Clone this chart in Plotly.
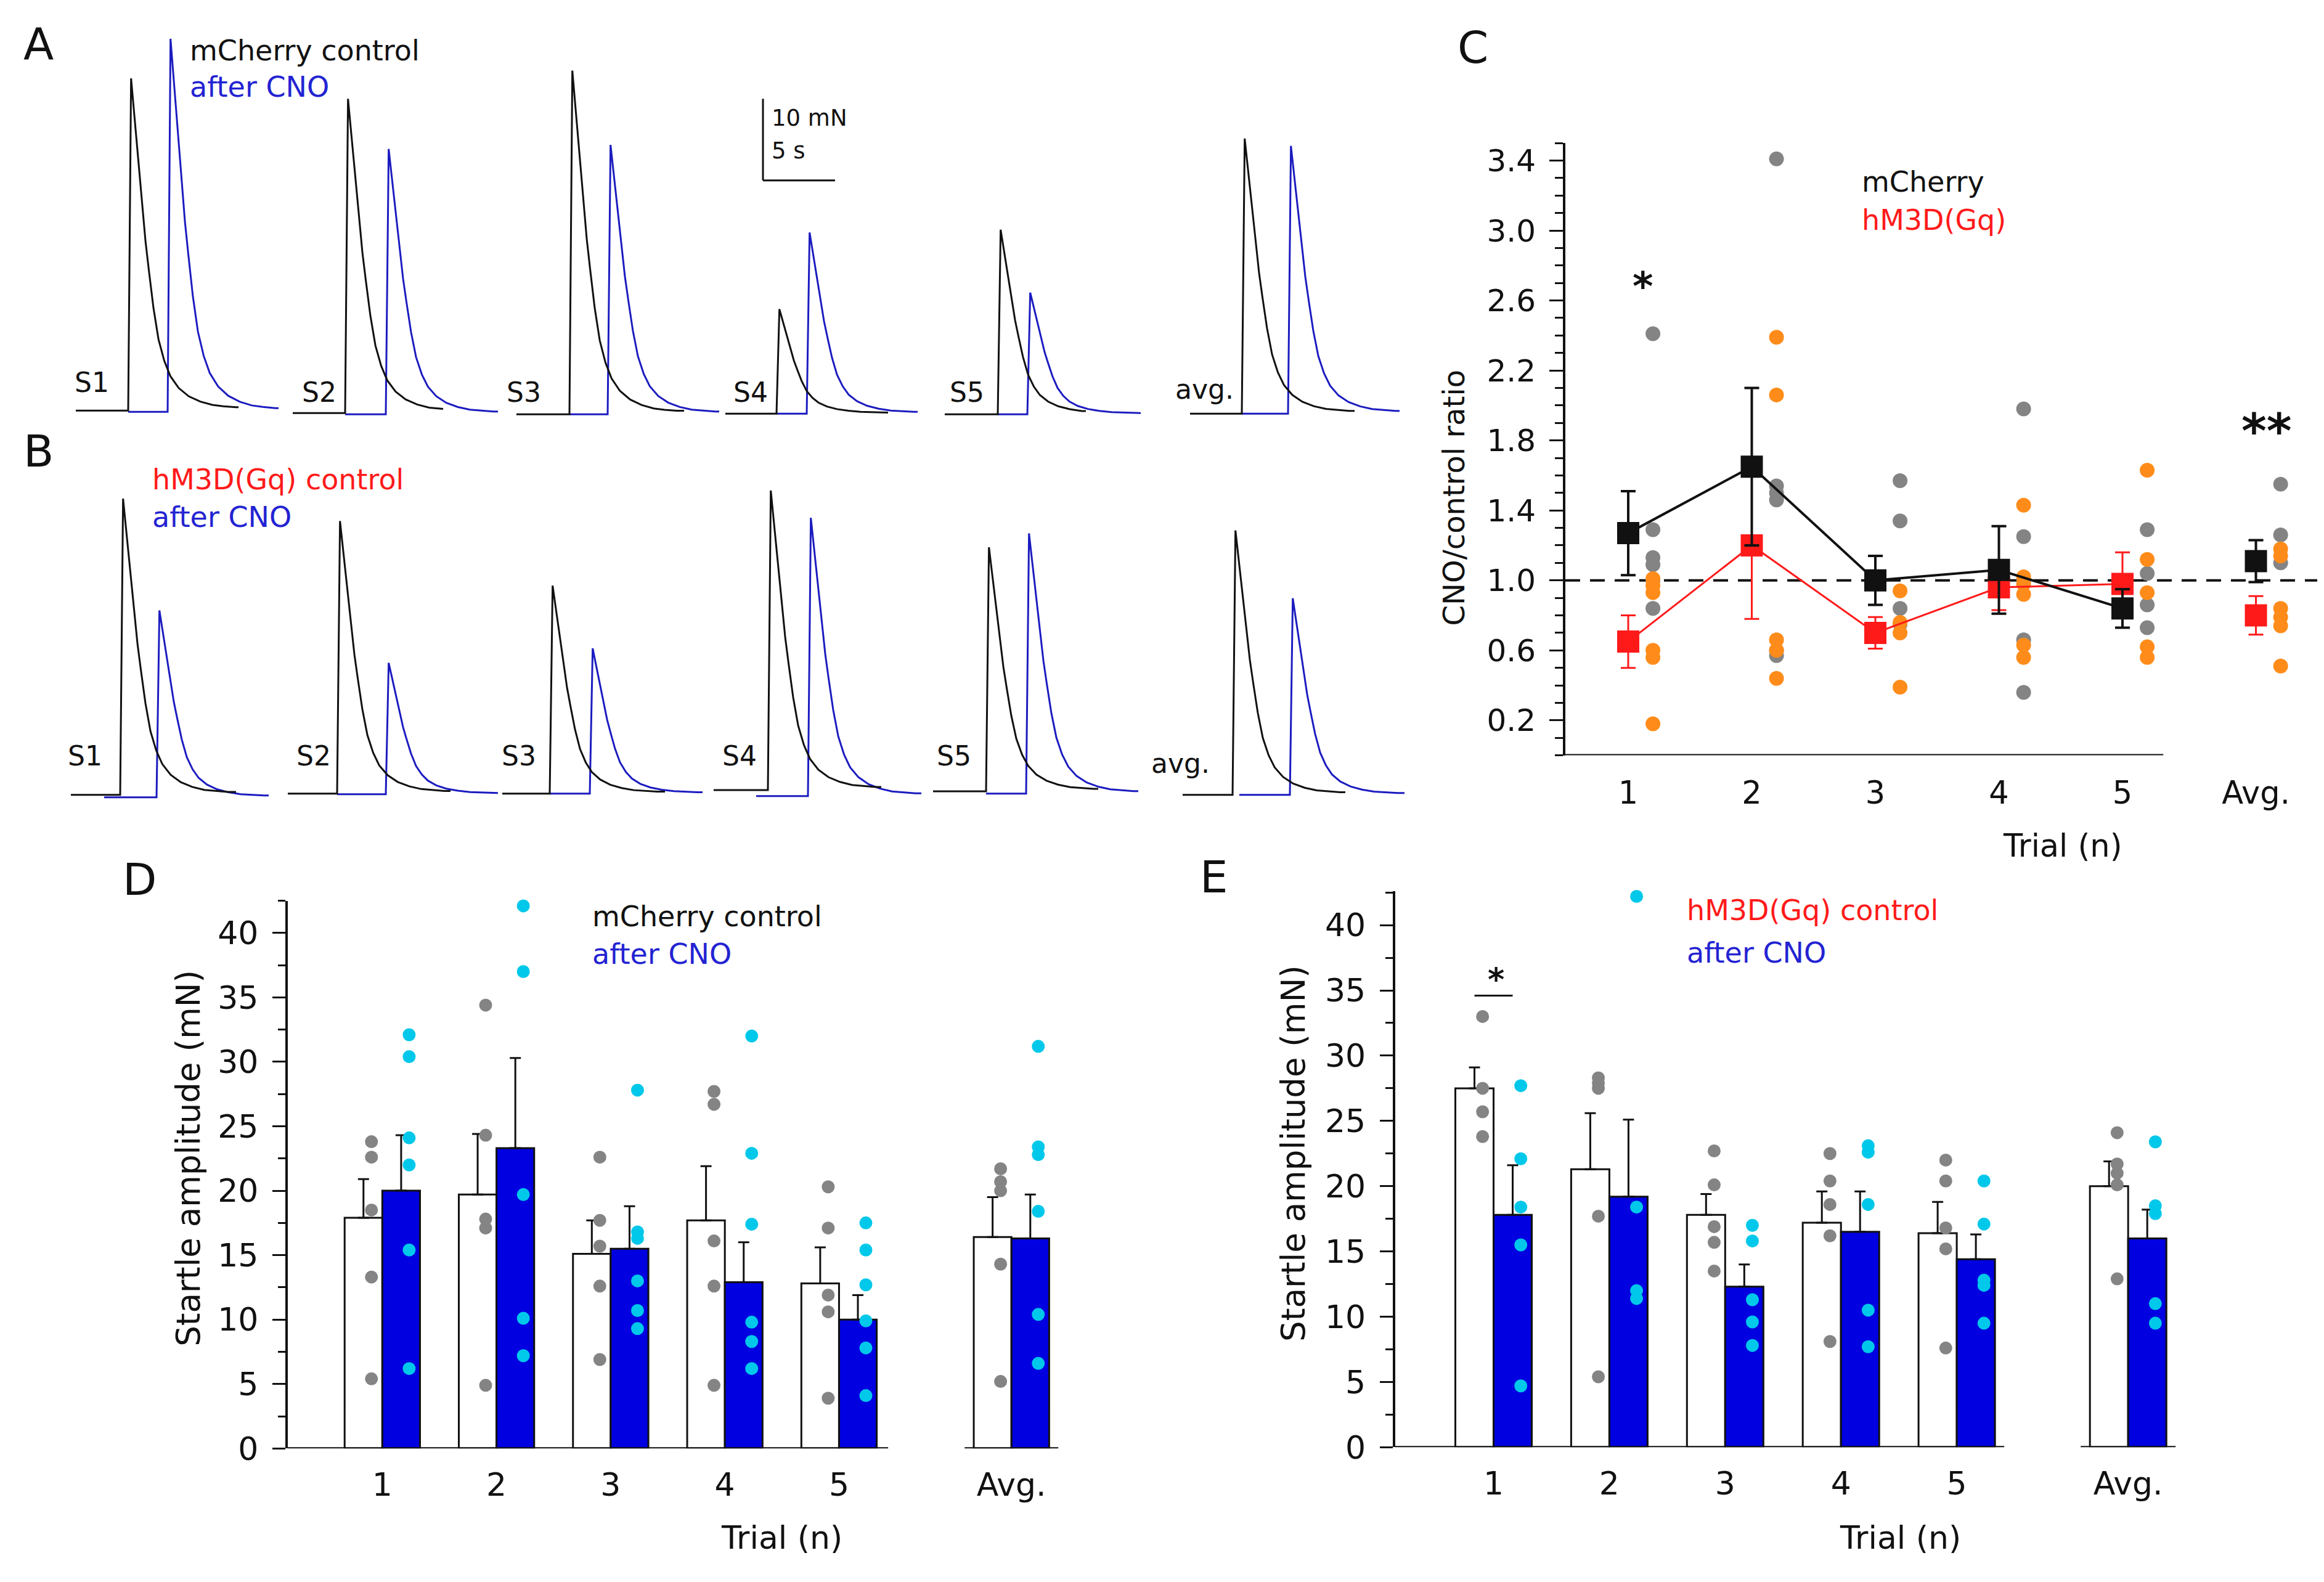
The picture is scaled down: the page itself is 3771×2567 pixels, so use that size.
import plotly.graph_objects as go

W, H = 3771, 2567
FONT = 'DejaVu Sans'
BLACK = '#111111'
TRACE_BLUE = '#1c1cc0'
TEXT_BLUE = '#2323d2'
BAR_BLUE = '#0000e0'
RED = '#ff1a1a'
GRAY = '#848484'
ORANGE = '#ff8c1a'
CYAN = '#00c8ea'

# ---------------- data ----------------
# A / B: example startle traces, peak force (mN) per sweep, and one shared twitch shape
SWEEPS = ['S1', 'S2', 'S3', 'S4', 'S5', 'avg.']
A_CTRL_AMP = [40.7, 38.5, 42.1, 12.8, 22.6, 33.7]
A_CNO_AMP = [45.7, 32.5, 33.0, 22.2, 14.9, 32.8]
B_CTRL_AMP = [36.3, 33.4, 25.5, 36.7, 29.9, 32.4]
B_CNO_AMP = [22.9, 16.1, 17.8, 34.1, 31.9, 24.1]
# s after onset / fraction of peak
WAVE_T = [0.0, 0.2, 0.3, 0.45, 0.7, 0.97, 1.2, 1.44, 1.75, 2.1, 2.5, 2.92, 3.5, 4.2, 5.0, 5.84,
          6.6, 7.46]
WAVE_F = [0.0, 1.0, 0.95, 0.876, 0.75, 0.62, 0.51, 0.42, 0.31, 0.215, 0.15, 0.104, 0.068, 0.043,
          0.027, 0.017, 0.013, 0.01]

# C: CNO/control ratio
TRIALS = ['1', '2', '3', '4', '5', 'Avg.']
C_MCH_MEAN = [1.27, 1.65, 1.00, 1.06, 0.84, 1.11]
C_MCH_SEM = [0.24, 0.45, 0.14, 0.25, 0.11, 0.12]
C_HM3_MEAN = [0.65, 1.20, 0.70, 0.96, 0.98, 0.80]
C_HM3_SEM = [0.15, 0.42, 0.09, 0.13, 0.18, 0.11]
C_MCH_PTS = [[2.41, 1.29, 1.13, 1.09, 1.00, 0.84], [3.41, 1.54, 1.50, 1.46, 0.60, 0.57],
             [1.57, 1.34, 0.84, 0.75], [1.98, 1.25, 1.00, 0.66, 0.36],
             [1.29, 1.04, 0.86, 0.73], [1.55, 1.26, 1.10]]
C_HM3_PTS = [[1.01, 0.97, 0.93, 0.60, 0.56, 0.18], [2.39, 2.06, 0.66, 0.60, 0.44],
             [0.94, 0.76, 0.70, 0.39], [1.43, 1.02, 0.98, 0.92, 0.63, 0.56],
             [1.63, 1.12, 0.93, 0.62, 0.56], [1.18, 1.14, 0.84, 0.79, 0.74, 0.51]]

# D: mCherry startle amplitude (mN)
D_CTRL_MEAN = [17.9, 19.7, 15.1, 17.7, 12.8, 16.4]
D_CTRL_SEM = [3.0, 4.7, 2.6, 4.2, 2.8, 3.1]
D_CNO_MEAN = [20.0, 23.3, 15.5, 12.9, 10.0, 16.3]
D_CNO_SEM = [4.3, 7.0, 3.3, 3.1, 1.9, 3.4]
D_CTRL_PTS = [[23.8, 22.6, 18.5, 13.3, 5.4], [34.4, 24.3, 17.8, 17.1, 4.9],
              [22.6, 17.7, 15.7, 12.6, 6.9], [27.7, 26.7, 16.1, 12.6, 4.9],
              [20.3, 17.1, 11.9, 10.6, 3.9], [21.7, 20.7, 20.0, 14.3, 5.2]]
D_CNO_PTS = [[32.1, 30.4, 24.1, 22.0, 15.4, 6.2], [42.1, 37.0, 19.7, 10.1, 7.2],
             [27.8, 16.8, 16.3, 13.0, 10.7, 9.3], [32.0, 22.9, 17.4, 9.8, 8.3, 6.2],
             [17.5, 15.4, 12.7, 9.9, 7.8, 4.1], [31.2, 23.4, 22.8, 18.4, 10.4, 6.6]]

# E: hM3D(Gq) startle amplitude (mN)
E_CTRL_MEAN = [27.5, 21.3, 17.8, 17.2, 16.4, 20.0]
E_CTRL_SEM = [1.6, 4.3, 1.6, 2.4, 2.4, 1.9]
E_CNO_MEAN = [17.8, 19.2, 12.3, 16.5, 14.4, 16.0]
E_CNO_SEM = [3.8, 5.9, 1.7, 3.1, 1.9, 2.2]
E_CTRL_PTS = [[33.0, 27.5, 25.7, 23.8], [28.3, 27.9, 27.5, 17.7, 5.4],
              [22.7, 20.1, 16.9, 15.7, 13.5], [22.5, 20.4, 18.6, 16.2, 8.1],
              [22.0, 20.4, 16.8, 15.2, 7.6], [24.1, 21.7, 21.0, 20.1, 12.9]]
E_CNO_PTS = [[27.7, 22.1, 18.4, 15.5, 4.7], [42.2, 18.4, 12.0, 11.4],
             [17.0, 15.8, 11.3, 9.6, 7.8], [23.1, 22.6, 18.6, 10.5, 7.7],
             [20.4, 17.1, 12.8, 12.4, 9.5], [23.4, 18.5, 17.9, 11.0, 9.5]]

# ---------------- layout constants (pixels of the 3771x2567 page) ----------------
PX_S, PX_MN = 23.4, 13.4      # trace scale: px per second, px per mN
A_REF, B_REF = 700, 1330      # page row taken as 0 mN on the trace axes
TRACE_W = 2330

# ctrl baseline, ctrl start, ctrl onset, ctrl end, cno baseline, cno start, cno onset, cno end
A_GEOM = [(666, 115, 200, 379, 668, 200, 264, 444),
          (670, 467, 552, 711, 672, 552, 618, 800),
          (672, 830, 916, 1102, 672, 916, 978, 1159),
          (671, 1169, 1252, 1433, 671, 1252, 1301, 1481),
          (672, 1525, 1611, 1754, 672, 1611, 1659, 1843),
          (671, 1923, 2007, 2190, 671, 2007, 2082, 2263)]
B_GEOM = [(1297, 107, 187, 375, 1301, 161, 246, 428),
          (1295, 459, 539, 723, 1296, 539, 618, 800),
          (1295, 807, 884, 1071, 1295, 884, 949, 1132),
          (1289, 1150, 1238, 1422, 1299, 1219, 1303, 1487),
          (1291, 1506, 1592, 1774, 1295, 1592, 1657, 1839),
          (1297, 1911, 1992, 2175, 1297, 2003, 2085, 2271)]
A_LABEL = [(141, 620), (510, 636), (842, 636), (1210, 636), (1561, 636), (1947, 631)]
B_LABEL = [(130, 1233), (501, 1233), (834, 1233), (1192, 1233), (1540, 1233), (1907, 1245)]

C_XPOS = [1, 2, 3, 4, 5, 6.08]
D_XPOS = [1, 2, 3, 4, 5, 6.51]
E_XPOS = [1, 2, 3, 4, 5, 6.48]
BW = 0.33


def dom_x(left, right):
    return [left / W, right / W]


def dom_y(top, bottom):
    return [1 - bottom / H, 1 - top / H]


def sweep_xy(base, start, onset, end, amp, ref):
    b = (ref - base) / PX_MN
    xs, ys = [start / PX_S], [b]
    last = 0.0
    for t, f in zip(WAVE_T, WAVE_F):
        if onset + t * PX_S > end:
            break
        xs.append(onset / PX_S + t)
        ys.append(b + amp * f)
        last = f
    xs.append(end / PX_S)
    ys.append(b + amp * last)
    return xs, ys


fig = go.Figure()
ann = []
shapes = []


def text(x, y, s, size, color=BLACK, xanchor='center', angle=0, bold=False):
    ann.append(dict(x=x / W, y=1 - y / H, xref='paper', yref='paper', text=s, showarrow=False,
                    xanchor=xanchor, yanchor='middle', textangle=angle,
                    font=dict(family=FONT, size=size, color=color,
                              weight='bold' if bold else 'normal')))


# ---------------- A and B traces ----------------
for geom, ctrl, cno, ref, xa, ya in [(A_GEOM, A_CTRL_AMP, A_CNO_AMP, A_REF, 'x', 'y'),
                                     (B_GEOM, B_CTRL_AMP, B_CNO_AMP, B_REF, 'x', 'y6')]:
    for i in range(len(SWEEPS)):
        cb, cs, co, ce, nb, ns, no, ne = geom[i]
        x, y = sweep_xy(nb, ns, no, ne, cno[i], ref)
        fig.add_trace(go.Scatter(x=x, y=y, mode='lines', line=dict(color=TRACE_BLUE, width=3),
                                 xaxis=xa, yaxis=ya, showlegend=False, hoverinfo='skip'))
        x, y = sweep_xy(cb, cs, co, ce, ctrl[i], ref)
        fig.add_trace(go.Scatter(x=x, y=y, mode='lines', line=dict(color=BLACK, width=3),
                                 xaxis=xa, yaxis=ya, showlegend=False, hoverinfo='skip'))

for i, s in enumerate(SWEEPS):
    text(A_LABEL[i][0], A_LABEL[i][1], s, 44)
    text(B_LABEL[i][0], B_LABEL[i][1], s, 44)

# scale bar: 10 mN / 5 s
sb_x = 1230 / PX_S
sb_y = (A_REF - 288) / PX_MN
shapes.append(dict(type='line', xref='x', yref='y', x0=sb_x, x1=sb_x, y0=sb_y, y1=sb_y + 10,
                   line=dict(color=BLACK, width=3)))
shapes.append(dict(type='line', xref='x', yref='y', x0=sb_x, x1=sb_x + 5, y0=sb_y, y1=sb_y,
                   line=dict(color=BLACK, width=3)))
text(1242, 186, '10 mN', 37, xanchor='left')
text(1242, 239, '5 s', 37, xanchor='left')

text(298, 75, 'mCherry control', 46, xanchor='left')
text(298, 135, 'after CNO', 46, TEXT_BLUE, xanchor='left')
text(237, 779, 'hM3D(Gq) control', 46, RED, xanchor='left')
text(237, 841, 'after CNO', 46, TEXT_BLUE, xanchor='left')

# ---------------- C ----------------
shapes.append(dict(type='line', xref='x2', yref='y2', x0=0.4913, x1=6.576, y0=1, y1=1,
                   layer='below', line=dict(color=BLACK, width=4, dash='24px,16px')))
shapes.append(dict(type='line', xref='x2', yref='y2', x0=0.4913, x1=5.33, y0=0, y1=0,
                   line=dict(color=BLACK, width=4)))

for pts, color in [(C_MCH_PTS, GRAY), (C_HM3_PTS, ORANGE)]:
    xs, ys = [], []
    for i, p in enumerate(pts):
        xs += [C_XPOS[i] + 0.2] * len(p)
        ys += p
    fig.add_trace(go.Scatter(x=xs, y=ys, mode='markers', xaxis='x2', yaxis='y2',
                             marker=dict(color=color, size=24, symbol='circle'),
                             showlegend=False, cliponaxis=False))

for mean, sem, color, lw in [(C_HM3_MEAN, C_HM3_SEM, RED, 3), (C_MCH_MEAN, C_MCH_SEM, BLACK, 4)]:
    fig.add_trace(go.Scatter(x=C_XPOS[:5], y=mean[:5], mode='lines', xaxis='x2', yaxis='y2',
                             line=dict(color=color, width=lw), showlegend=False))
    fig.add_trace(go.Scatter(x=C_XPOS, y=mean, mode='markers', xaxis='x2', yaxis='y2',
                             marker=dict(color=color, size=36, symbol='square'),
                             error_y=dict(type='data', array=sem, color=color, thickness=lw,
                                          width=12),
                             showlegend=False, cliponaxis=False))

text(3011, 290, 'mCherry', 46, xanchor='left')
text(3011, 353, 'hM3D(Gq)', 46, RED, xanchor='left')
text(2657, 462, '*', 64, bold=True)
text(3670, 700, '**', 78, bold=True)
text(2351, 809, 'CNO/control ratio', 48, angle=-90)
text(3339, 1381, 'Trial (n)', 51)

# ---------------- D and E ----------------
for (xpos, cm, cs, nm, ns, cp, npts, xa, ya) in [
        (D_XPOS, D_CTRL_MEAN, D_CTRL_SEM, D_CNO_MEAN, D_CNO_SEM, D_CTRL_PTS, D_CNO_PTS, 'x3', 'y3'),
        (E_XPOS, E_CTRL_MEAN, E_CTRL_SEM, E_CNO_MEAN, E_CNO_SEM, E_CTRL_PTS, E_CNO_PTS, 'x4', 'y4')]:
    fig.add_trace(go.Bar(x=xpos, y=cm, width=BW, offset=-BW, xaxis=xa, yaxis=ya,
                         marker=dict(color='white', line=dict(color=BLACK, width=3)),
                         error_y=dict(type='data', array=cs, arrayminus=[0] * 6, symmetric=False,
                                      color=BLACK, thickness=3, width=9),
                         showlegend=False))
    fig.add_trace(go.Bar(x=xpos, y=nm, width=BW, offset=0, xaxis=xa, yaxis=ya,
                         marker=dict(color=BAR_BLUE, line=dict(color=BLACK, width=3)),
                         error_y=dict(type='data', array=ns, arrayminus=[0] * 6, symmetric=False,
                                      color=BLACK, thickness=3, width=9),
                         showlegend=False))
    for pts, color, off in [(cp, GRAY, -0.095), (npts, CYAN, 0.235)]:
        xs, ys = [], []
        for i, p in enumerate(pts):
            xs += [xpos[i] + off] * len(p)
            ys += p
        fig.add_trace(go.Scatter(x=xs, y=ys, mode='markers', xaxis=xa, yaxis=ya,
                                 marker=dict(color=color, size=21), showlegend=False,
                                 cliponaxis=False))

# broken x axes
for xa, ya, segs in [('x3', 'y3', [(0.1707, 5.43), (6.10, 6.92)]),
                     ('x4', 'y4', [(0.07, 5.41), (6.07, 6.89)])]:
    for a, b in segs:
        shapes.append(dict(type='line', xref=xa, yref=ya, x0=a, x1=b, y0=0, y1=0,
                           line=dict(color=BLACK, width=4)))

# significance bar in E trial 1
shapes.append(dict(type='line', xref='x4', yref='y4', x0=1 - BW / 2, x1=1 + BW / 2, y0=34.6, y1=34.6,
                   line=dict(color=BLACK, width=3)))
text(2419, 1600, '*', 52, bold=True)

text(951, 1496, 'mCherry control', 46, xanchor='left')
text(951, 1558, 'after CNO', 46, TEXT_BLUE, xanchor='left')
text(2727, 1486, 'hM3D(Gq) control', 46, RED, xanchor='left')
text(2727, 1556, 'after CNO', 46, TEXT_BLUE, xanchor='left')
text(298, 1894, 'Startle amplitude (mN)', 53, angle=-90)
text(2091, 1886, 'Startle amplitude (mN)', 53, angle=-90)
text(1260, 2516, 'Trial (n)', 52)
text(3075, 2516, 'Trial (n)', 52)

# panel letters
for s, x, y in [('A', 54, 64), ('B', 54, 733), ('C', 2382, 70), ('D', 218, 1436), ('E', 1962, 1432)]:
    text(x, y, s, 72)

# ---------------- axes ----------------
hidden = dict(visible=False, showgrid=False, zeroline=False)
yax_common = dict(showline=True, linewidth=4, linecolor=BLACK, ticks='outside', tickwidth=3,
                  tickcolor=BLACK, showgrid=False, zeroline=False,
                  tickfont=dict(family=FONT, size=50, color=BLACK))
xax_common = dict(showline=False, showgrid=False, zeroline=False, ticks='',
                  tickfont=dict(family=FONT, size=51, color=BLACK))

fig.update_layout(
    width=W, height=H,
    margin=dict(l=0, r=0, t=0, b=0),
    paper_bgcolor='white', plot_bgcolor='white',
    barmode='overlay',
    xaxis=dict(domain=dom_x(0, TRACE_W), range=[0, TRACE_W / PX_S], anchor='y', **hidden),
    yaxis=dict(domain=dom_y(0, 720), range=[(A_REF - 720) / PX_MN, A_REF / PX_MN], anchor='x',
               **hidden),
    yaxis6=dict(domain=dom_y(720, 1350), range=[(B_REF - 1350) / PX_MN, (B_REF - 720) / PX_MN],
                anchor='x', **hidden),
    xaxis2=dict(domain=dom_x(2532, 3752), range=[0.4913, 6.576], anchor='y2',
                tickvals=C_XPOS, ticktext=TRIALS, ticklabelstandoff=26, **xax_common),
    yaxis2=dict(domain=dom_y(1232 - 3.5 * 287.2, 1232), range=[0, 3.5], anchor='x2',
                tick0=0.2, dtick=0.4, ticklen=22, tickformat='.1f', ticklabelstandoff=12,
                minor=dict(dtick=0.1, tick0=0, ticklen=13, ticks='outside', tickwidth=3,
                           tickcolor=BLACK),
                **yax_common),
    xaxis3=dict(domain=dom_x(458.7, 1724), range=[0.1707, 7.0], anchor='y3',
                tickvals=D_XPOS, ticktext=TRIALS, ticklabelstandoff=24, **xax_common),
    yaxis3=dict(domain=dom_y(2370 - 42.5 * 21.16, 2370), range=[0, 42.5], anchor='x3',
                tick0=0, dtick=5, ticklen=21, ticklabelstandoff=12,
                minor=dict(dtick=2.5, ticklen=12, ticks='outside', tickwidth=3, tickcolor=BLACK),
                **yax_common),
    xaxis4=dict(domain=dom_x(2255.6, 3542.9), range=[0.1489, 7.0], anchor='y4',
                tickvals=E_XPOS, ticktext=TRIALS, ticklabelstandoff=24, **xax_common),
    yaxis4=dict(domain=dom_y(2368 - 42.6 * 21.43, 2368), range=[0, 42.6], anchor='x4',
                tick0=0, dtick=5, ticklen=21, ticklabelstandoff=12,
                minor=dict(dtick=2.5, ticklen=12, ticks='outside', tickwidth=3, tickcolor=BLACK),
                **yax_common),
    annotations=ann,
    shapes=shapes,
)
fig.update_yaxes(tickfont=dict(size=52), selector=dict(anchor='x3'))
fig.update_yaxes(tickfont=dict(size=52), selector=dict(anchor='x4'))
fig.update_xaxes(tickfont=dict(size=52), selector=dict(anchor='y3'))
fig.update_xaxes(tickfont=dict(size=52), selector=dict(anchor='y4'))

fig.write_html("out.html")
